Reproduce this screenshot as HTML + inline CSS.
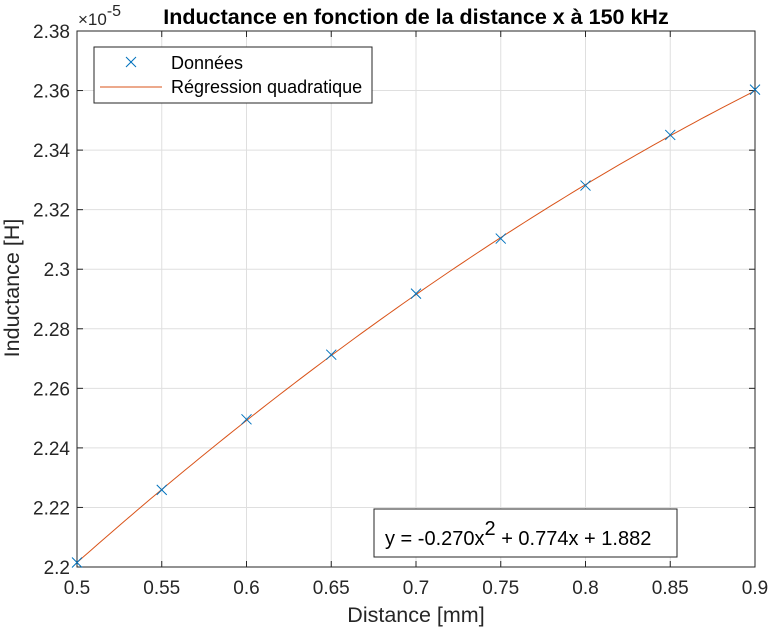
<!DOCTYPE html>
<html><head><meta charset="utf-8"><style>
body{margin:0;background:#fff;}
text{font-family:"Liberation Sans",sans-serif;}
</style></head><body>
<svg id="chart" width="771" height="628" viewBox="0 0 771 628" xmlns="http://www.w3.org/2000/svg">
<rect width="771" height="628" fill="#fff"/>
<g id="grid"></g>
<g id="axes"></g>
<g id="series"></g>
<text x="416" y="24" text-anchor="middle" font-size="21.5" font-weight="bold" fill="#000">Inductance en fonction de la distance x à 150 kHz</text>
<text x="78" y="25" font-size="17" fill="#262626">×10<tspan dy="-9" font-size="16">-5</tspan></text>
<text x="416" y="622" text-anchor="middle" font-size="21.5" fill="#262626">Distance [mm]</text>
<text transform="translate(19,288) rotate(-90)" text-anchor="middle" font-size="21.5" fill="#262626">Inductance [H]</text>
<g>
<rect x="94" y="47" width="278" height="56" fill="#fff" stroke="#262626" stroke-width="1"/>
<g>
<path d="M126 57 L136 67 M136 57 L126 67" stroke="#0072BD" stroke-width="1"/>
<text x="171" y="69" font-size="18" fill="#000">Données</text></g>
<g>
<line x1="100" y1="87" x2="162" y2="87" stroke="#D95319" stroke-width="1"/>
<text x="171" y="93" font-size="18" fill="#000">Régression quadratique</text></g>
</g>
<g>
<rect x="374" y="509" width="303" height="48" fill="#fff" stroke="#262626" stroke-width="1"/>
<text x="385" y="545" font-size="20" fill="#000">y = -0.270x<tspan dy="-10" font-size="20">2</tspan><tspan dy="10"> + 0.774x + 1.882</tspan></text>
</g>
</svg>
<script>
const xData=[0.5,0.55,0.6,0.65,0.7,0.75,0.8,0.85,0.9];
const yData=[2.2015,2.2259,2.2496,2.2713,2.2918,2.3103,2.3281,2.3451,2.3603];
const fitCoef=[-0.270,0.774,1.882];
const xTicks=[0.5,0.55,0.6,0.65,0.7,0.75,0.8,0.85,0.9];
const xTickLabels=["0.5","0.55","0.6","0.65","0.7","0.75","0.8","0.85","0.9"];
const yTicks=[2.2,2.22,2.24,2.26,2.28,2.3,2.32,2.34,2.36,2.38];
const yTickLabels=["2.2","2.22","2.24","2.26","2.28","2.3","2.32","2.34","2.36","2.38"];
const L=77,R=755,T=31,B=567,X0=0.5,X1=0.9,Y0=2.2,Y1=2.38;
const sx=v=>L+(v-X0)/(X1-X0)*(R-L);
const sy=v=>B-(v-Y0)/(Y1-Y0)*(B-T);
const NS="http://www.w3.org/2000/svg";
function mk(tag,attrs,parent){const e=document.createElementNS(NS,tag);for(const k in attrs)e.setAttribute(k,attrs[k]);parent.appendChild(e);return e;}
const grid=document.getElementById('grid'),axes=document.getElementById('axes'),series=document.getElementById('series');
xTicks.forEach((v,i)=>{const x=sx(v);
 const g=mk('line',{x1:x,y1:T,x2:x,y2:B,stroke:'#dfdfdf','stroke-width':1},grid);
 
 
 mk('line',{x1:x,y1:B,x2:x,y2:B-6,stroke:'#262626'},axes);
 mk('line',{x1:x,y1:T,x2:x,y2:T+6,stroke:'#262626'},axes);
 const t=mk('text',{x:x,y:B+27,'text-anchor':'middle','font-size':19,fill:'#262626'},axes);
 t.textContent=xTickLabels[i];
 
 
});
yTicks.forEach((v,i)=>{const y=sy(v);
 const g=mk('line',{x1:L,y1:y,x2:R,y2:y,stroke:'#dfdfdf','stroke-width':1},grid);
 
 
 mk('line',{x1:L,y1:y,x2:L+6,y2:y,stroke:'#262626'},axes);
 mk('line',{x1:R,y1:y,x2:R-6,y2:y,stroke:'#262626'},axes);
 const t=mk('text',{x:L-7,y:y+7,'text-anchor':'end','font-size':19,fill:'#262626'},axes);
 t.textContent=yTickLabels[i];
 
 
});
mk('rect',{x:L,y:T,width:R-L,height:B-T,fill:'none',stroke:'#262626','stroke-width':1},axes);
let d='';for(let k=0;k<=100;k++){const x=X0+(X1-X0)*k/100;const y=fitCoef[0]*x*x+fitCoef[1]*x+fitCoef[2];d+=(k?'L':'M')+sx(x).toFixed(2)+' '+sy(y).toFixed(2);}
const fl=mk('path',{d:d,fill:'none',stroke:'#D95319','stroke-width':1},series);


xData.forEach((v,i)=>{const x=sx(v),y=sy(yData[i]);
 const p=mk('path',{d:`M${x-5} ${y-5}L${x+5} ${y+5}M${x+5} ${y-5}L${x-5} ${y+5}`,stroke:'#0072BD','stroke-width':1,fill:'none'},series);
 
 
});
</script>
</body></html>
